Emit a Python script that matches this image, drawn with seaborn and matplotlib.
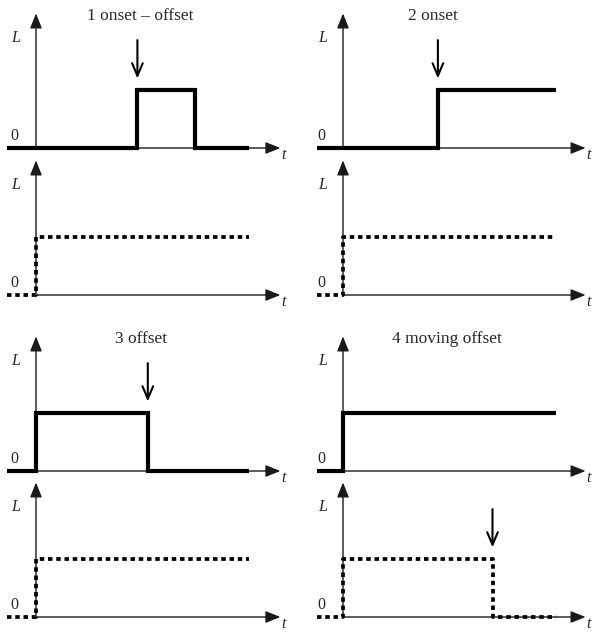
"""
Onset / offset step diagrams: level L over time t,
stimulus (solid) above response (dotted) for four cases.
"""

import numpy as np
import pandas as pd
import matplotlib
matplotlib.use("Agg")
import matplotlib.pyplot as plt
import seaborn as sns

# Data: step times (t) and levels (L)
titles = ["1 onset \u2013 offset", "2 onset", "3 offset", "4 moving offset"]

top_t = [
    [-1.1, 3.9, 6.1, 8.2],
    [-1.0, 3.65, 8.2],
    [-1.1, 0.0, 4.3, 8.2],
    [-1.0, 0.0, 8.2],
]
top_level = [
    [0, 1, 0, 0],
    [0, 1, 1],
    [0, 1, 0, 0],
    [0, 1, 1],
]
bottom_t = [
    [-1.1, 0.0, 8.2],
    [-1.0, 0.0, 8.2],
    [-1.1, 0.0, 8.2],
    [-1.0, 0.0, 5.75, 8.2],
]
bottom_level = [
    [0, 1, 1],
    [0, 1, 1],
    [0, 1, 1],
    [0, 1, 0, 0],
]
# where the pointer arrow sits: (panel, "top"/"bottom", time, level)
pointers = [
    (0, "top", 3.9, 1),
    (1, "top", 3.65, 1),
    (2, "top", 4.3, 1),
    (3, "bottom", 5.75, 1),
]
title_x = [4.0, 3.45, 4.05, 4.0]

# Layout (pixels)
W, H = 594, 633
KX, KY = 26.0, 58.0
col_x = [36, 343]
row_y = [(148, 295), (471, 617)]
XLIM = (-1.5, 10.0)
YLIM = (-0.45, 2.5)

sns.set_theme(style="white")
plt.rcParams["font.family"] = ["Liberation Serif", "DejaVu Serif"]

fig = plt.figure(figsize=(W / 100, H / 100), dpi=100)
fig.patch.set_facecolor("white")


def make_ax(ox, oy):
    left = ox + XLIM[0] * KX
    width = (XLIM[1] - XLIM[0]) * KX
    bottom = H - (oy - YLIM[0] * KY)
    height = (YLIM[1] - YLIM[0]) * KY
    ax = fig.add_axes([left / W, bottom / H, width / W, height / H])
    ax.set_xlim(*XLIM)
    ax.set_ylim(*YLIM)
    ax.axis("off")
    ax.patch.set_alpha(0)
    return ax


def draw_axes_arrows(ax, x_end):
    style = dict(arrowstyle="-|>,head_length=0.75,head_width=0.3",
                 lw=1.0, color="#1a1a1a", shrinkA=0, shrinkB=0)
    ax.annotate("", xy=(x_end, 0), xytext=(0, 0), arrowprops=style,
                annotation_clip=False, zorder=1)
    ax.annotate("", xy=(0, 2.32), xytext=(0, 0), arrowprops=style,
                annotation_clip=False, zorder=1)
    ax.text(-0.78, 1.9, "L", fontsize=11.5, style="italic",
            ha="center", va="center")
    ax.text(-0.85, 0.2, "0", fontsize=11.5, ha="center", va="center")
    ax.text(x_end + 0.13, -0.12, "t", fontsize=11.5, style="italic",
            ha="center", va="center", clip_on=False)


axes = {}
for i in range(4):
    col = i % 2
    row = i // 2
    ox = col_x[col]
    y_top, y_bot = row_y[row]
    x_end = 9.4 if col == 0 else 9.33

    ax_top = make_ax(ox, y_top)
    ax_bot = make_ax(ox, y_bot)
    axes[(i, "top")] = ax_top
    axes[(i, "bottom")] = ax_bot

    for ax in (ax_top, ax_bot):
        draw_axes_arrows(ax, x_end)

    df_top = pd.DataFrame({"t": top_t[i], "L": top_level[i]})
    sns.lineplot(data=df_top, x="t", y="L", ax=ax_top, color="black",
                 lw=3.0, drawstyle="steps-post", zorder=3,
                 solid_joinstyle="miter", solid_capstyle="butt")

    df_bot = pd.DataFrame({"t": bottom_t[i], "L": bottom_level[i]})
    sns.lineplot(data=df_bot, x="t", y="L", ax=ax_bot, color="black",
                 lw=2.7, drawstyle="steps-post", zorder=3,
                 linestyle=(0, (1.2, 1.0)), dash_capstyle="butt")

    for ax in (ax_top, ax_bot):
        ax.set_xlim(*XLIM)
        ax.set_ylim(*YLIM)
        ax.axis("off")

    ax_top.text(title_x[i], 2.27, titles[i], fontsize=12.5,
                ha="center", va="center")

# Pointer arrows marking the event
for i, which, t_ev, lvl in pointers:
    ax = axes[(i, which)]
    ax.annotate("", xy=(t_ev, lvl + 0.2), xytext=(t_ev, lvl + 0.86),
                arrowprops=dict(arrowstyle="->,head_length=0.75,head_width=0.32",
                                lw=1.5, color="black",
                                shrinkA=0, shrinkB=0),
                zorder=4)

plt.savefig("out.png", dpi=100, facecolor="white")
